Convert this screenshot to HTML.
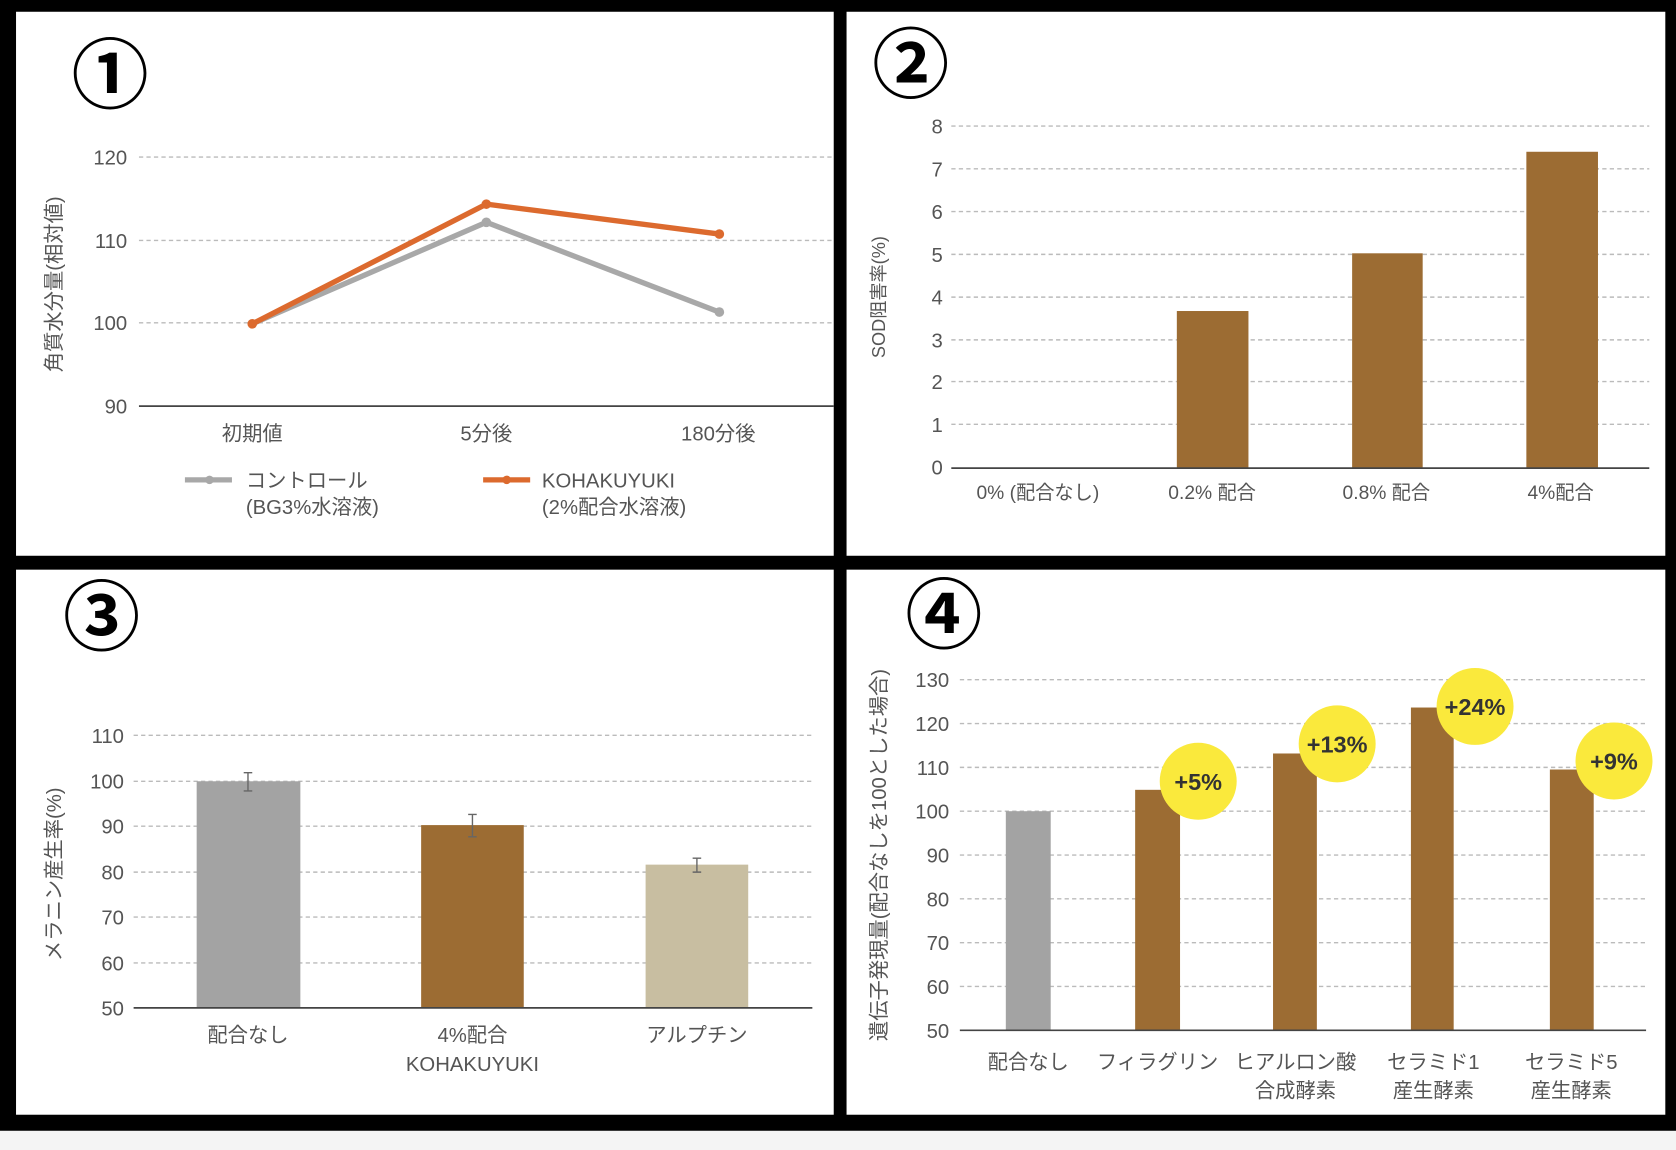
<!DOCTYPE html>
<html><head><meta charset="utf-8"><style>
html,body{margin:0;padding:0;background:#000;}
svg{display:block;}
text{font-family:"Liberation Sans","Noto Sans CJK JP",sans-serif;fill:#555;}
.t{font-size:19px;}
.n{font-size:72px;fill:#000;font-weight:bold;}
.g{stroke:#bbb;stroke-width:1.3;stroke-dasharray:4 3;}
.a{stroke:#444;stroke-width:1.6;}
</style></head><body>
<svg width="1676" height="1150" viewBox="0 0 1568 1076" preserveAspectRatio="none" xmlns="http://www.w3.org/2000/svg">
<rect x="0" y="0" width="1568" height="1076" fill="#000"/>
<rect x="0" y="1058" width="1568" height="18" fill="#f4f4f4"/>
<rect x="15" y="11" width="765" height="509" fill="#fff"/>
<rect x="792" y="11" width="766" height="509" fill="#fff"/>
<rect x="15" y="533" width="765" height="510" fill="#fff"/>
<rect x="792" y="533" width="766" height="510" fill="#fff"/>

<!-- Chart 1 -->
<text class="n" x="103" y="96" text-anchor="middle">①</text>
<line class="g" x1="130" y1="147" x2="780" y2="147"/>
<line class="g" x1="130" y1="225" x2="780" y2="225"/>
<line class="g" x1="130" y1="302" x2="780" y2="302"/>
<line class="a" x1="130" y1="380" x2="780" y2="380"/>
<g class="t" text-anchor="end">
<text x="119" y="154" class="t">120</text><text x="119" y="232" class="t">110</text>
<text x="119" y="309" class="t">100</text><text x="119" y="387" class="t">90</text></g>
<text class="t" transform="translate(57,266) rotate(-90)" text-anchor="middle">角質水分量(相対値)</text>
<polyline points="236,303 455,208 673,292" fill="none" stroke="#a8a8a8" stroke-width="5"/>
<circle cx="455" cy="208" r="4.5" fill="#a8a8a8"/><circle cx="673" cy="292" r="4.5" fill="#a8a8a8"/>
<polyline points="236,303 455,191 673,219" fill="none" stroke="#dc6a2e" stroke-width="5"/>
<circle cx="236" cy="303" r="4.5" fill="#dc6a2e"/><circle cx="455" cy="191" r="4.5" fill="#dc6a2e"/><circle cx="673" cy="219" r="4.5" fill="#dc6a2e"/>
<g text-anchor="middle"><text class="t" x="236" y="412">初期値</text><text class="t" x="455" y="412">5分後</text><text class="t" x="672" y="412">180分後</text></g>
<line x1="173" y1="449" x2="217" y2="449" stroke="#a8a8a8" stroke-width="5"/><circle cx="196" cy="449" r="4" fill="#a8a8a8"/>
<text class="t" x="230" y="456">コントロール</text><text class="t" x="230" y="481">(BG3%水溶液)</text>
<line x1="452" y1="449" x2="496" y2="449" stroke="#dc6a2e" stroke-width="5"/><circle cx="474" cy="449" r="4" fill="#dc6a2e"/>
<text class="t" x="507" y="456">KOHAKUYUKI</text><text class="t" x="507" y="481">(2%配合水溶液)</text>

<!-- Chart 2 -->
<text class="n" x="852" y="86" text-anchor="middle">②</text>
<g>
<line class="g" x1="890" y1="118" x2="1543" y2="118"/><line class="g" x1="890" y1="158" x2="1543" y2="158"/>
<line class="g" x1="890" y1="198" x2="1543" y2="198"/><line class="g" x1="890" y1="238" x2="1543" y2="238"/>
<line class="g" x1="890" y1="278" x2="1543" y2="278"/><line class="g" x1="890" y1="318" x2="1543" y2="318"/>
<line class="g" x1="890" y1="357" x2="1543" y2="357"/><line class="g" x1="890" y1="397" x2="1543" y2="397"/>
</g>
<g text-anchor="end">
<text class="t" x="882" y="125">8</text><text class="t" x="882" y="165">7</text><text class="t" x="882" y="205">6</text>
<text class="t" x="882" y="245">5</text><text class="t" x="882" y="285">4</text><text class="t" x="882" y="325">3</text>
<text class="t" x="882" y="364">2</text><text class="t" x="882" y="404">1</text><text class="t" x="882" y="444">0</text></g>
<rect x="1101" y="291" width="67" height="147" fill="#9c6c33"/>
<rect x="1265" y="237" width="66" height="201" fill="#9c6c33"/>
<rect x="1428" y="142" width="67" height="296" fill="#9c6c33"/>
<line class="a" x1="890" y1="438" x2="1543" y2="438"/>
<text class="t" style="font-size:17px" transform="translate(828,278) rotate(-90)" text-anchor="middle">SOD阻害率(%)</text>
<g text-anchor="middle" style="font-size:18px"><text class="t" x="971" y="467" style="font-size:18px">0% (配合なし)</text><text class="t" x="1134" y="467" style="font-size:18px">0.2% 配合</text>
<text class="t" x="1297" y="467" style="font-size:18px">0.8% 配合</text><text class="t" x="1460" y="467" style="font-size:18px">4%配合</text></g>

<!-- Chart 3 -->
<text class="n" x="95" y="603" text-anchor="middle">③</text>
<line class="g" x1="125" y1="688" x2="760" y2="688"/><line class="g" x1="125" y1="731" x2="760" y2="731"/>
<line class="g" x1="125" y1="773" x2="760" y2="773"/><line class="g" x1="125" y1="816" x2="760" y2="816"/>
<line class="g" x1="125" y1="858" x2="760" y2="858"/><line class="g" x1="125" y1="901" x2="760" y2="901"/>
<g text-anchor="end">
<text class="t" x="116" y="695">110</text><text class="t" x="116" y="738">100</text><text class="t" x="116" y="780">90</text>
<text class="t" x="116" y="823">80</text><text class="t" x="116" y="865">70</text><text class="t" x="116" y="908">60</text><text class="t" x="116" y="950">50</text></g>
<rect x="184" y="731" width="97" height="212" fill="#a3a3a3"/>
<rect x="394" y="772" width="96" height="171" fill="#9c6c33"/>
<rect x="604" y="809" width="96" height="134" fill="#c8bea1"/>
<g stroke="#666" stroke-width="1.3" fill="none">
<path d="M232 723V740M228 723H236M228 740H236"/>
<path d="M442 762V783M438 762H446M438 783H446"/>
<path d="M652 803V816M648 803H656M648 816H656"/></g>
<line class="a" x1="125" y1="943" x2="760" y2="943"/>
<text class="t" transform="translate(57,818) rotate(-90)" text-anchor="middle">メラニン産生率(%)</text>
<g text-anchor="middle"><text class="t" x="232" y="975">配合なし</text><text class="t" x="442" y="975">4%配合</text>
<text class="t" x="442" y="1002">KOHAKUYUKI</text><text class="t" x="652" y="975">アルプチン</text></g>

<!-- Chart 4 -->
<text class="n" x="883" y="601" text-anchor="middle">④</text>
<g>
<line class="g" x1="898" y1="636" x2="1540" y2="636"/><line class="g" x1="898" y1="677" x2="1540" y2="677"/>
<line class="g" x1="898" y1="718" x2="1540" y2="718"/><line class="g" x1="898" y1="759" x2="1540" y2="759"/>
<line class="g" x1="898" y1="800" x2="1540" y2="800"/><line class="g" x1="898" y1="841" x2="1540" y2="841"/>
<line class="g" x1="898" y1="882" x2="1540" y2="882"/><line class="g" x1="898" y1="923" x2="1540" y2="923"/>
</g>
<g text-anchor="end">
<text class="t" x="888" y="643">130</text><text class="t" x="888" y="684">120</text><text class="t" x="888" y="725">110</text>
<text class="t" x="888" y="766">100</text><text class="t" x="888" y="807">90</text><text class="t" x="888" y="848">80</text>
<text class="t" x="888" y="889">70</text><text class="t" x="888" y="930">60</text><text class="t" x="888" y="971">50</text></g>
<rect x="941" y="759" width="42" height="205" fill="#a3a3a3"/>
<rect x="1062" y="739" width="42" height="225" fill="#9c6c33"/>
<rect x="1191" y="705" width="41" height="259" fill="#9c6c33"/>
<rect x="1320" y="662" width="40" height="302" fill="#9c6c33"/>
<rect x="1450" y="720" width="41" height="244" fill="#9c6c33"/>
<line class="a" x1="898" y1="964" x2="1540" y2="964"/>
<g fill="#fae93c"><circle cx="1121" cy="731" r="36"/><circle cx="1251" cy="696" r="36"/><circle cx="1380" cy="661" r="36"/><circle cx="1510" cy="712" r="36"/></g>
<g text-anchor="middle" style="font-weight:bold">
<text x="1121" y="739" style="font-size:22px;fill:#333;font-weight:bold">+5%</text>
<text x="1251" y="704" style="font-size:22px;fill:#333;font-weight:bold">+13%</text>
<text x="1380" y="669" style="font-size:22px;fill:#333;font-weight:bold">+24%</text>
<text x="1510" y="720" style="font-size:22px;fill:#333;font-weight:bold">+9%</text></g>
<text class="t" transform="translate(829,800) rotate(-90)" text-anchor="middle">遺伝子発現量(配合なしを100とした場合)</text>
<g text-anchor="middle">
<text class="t" x="962" y="1000">配合なし</text><text class="t" x="1083" y="1000">フィラグリン</text>
<text class="t" x="1212" y="1000">ヒアルロン酸</text><text class="t" x="1212" y="1027">合成酵素</text>
<text class="t" x="1341" y="1000">セラミド1</text><text class="t" x="1341" y="1027">産生酵素</text>
<text class="t" x="1470" y="1000">セラミド5</text><text class="t" x="1470" y="1027">産生酵素</text></g>
</svg>
</body></html>
